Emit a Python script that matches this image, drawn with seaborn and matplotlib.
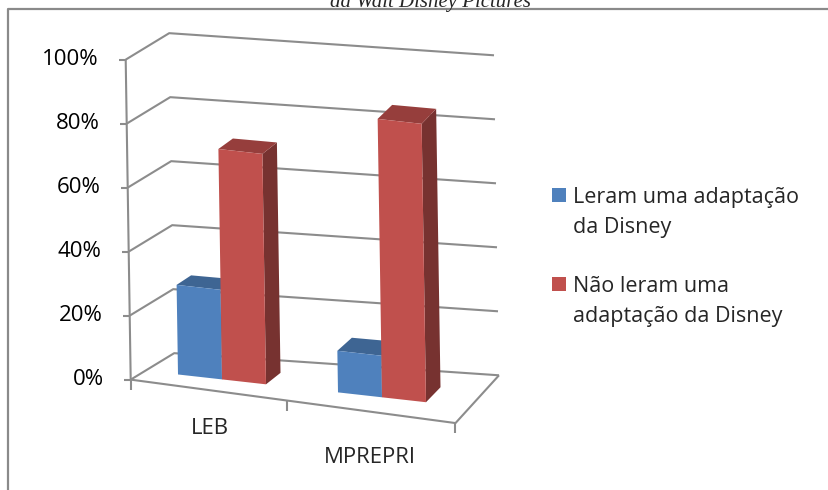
import numpy as np
import pandas as pd
import matplotlib
matplotlib.use("Agg")
import matplotlib.pyplot as plt
import seaborn as sns
from matplotlib.patches import Polygon, Rectangle
from matplotlib.transforms import Affine2D

# Data
categorias = ["LEB", "MPREPRI"]
leram = [28, 13]
nao_leram = [72, 87]
series = ["Leram uma adaptação da Disney", "Não leram uma adaptação da Disney"]
legenda = ["Leram uma adaptação\nda Disney", "Não leram uma\nadaptação da Disney"]
cores = ["#4F81BD", "#C0504D"]
ticks_y = [0, 20, 40, 60, 80, 100]
titulo = "da Walt Disney Pictures"

df = pd.DataFrame({
    "categoria": categorias * 2,
    "valor": leram + nao_leram,
    "serie": [series[0]] * 2 + [series[1]] * 2,
})

sns.set_theme(style="white")
plt.rcParams["font.family"] = ["Open Sans", "DejaVu Sans"]

# pseudo 3D projection (pixel space of the figure)
X0, AX, BZX, LX = 207.5, 160, 14.5, -0.05
Y0, CY, BZY = 389.9, 3.2, -10.5
S0, S1 = 21.4, -3.5
XL, XR = -0.48, 1.55
ZB0, ZB1, ZW = 1, 2, 3
grid_col = "#8c8c8c"
fs = 15.5


def proj(x, y, z):
    return (X0 + AX * x + BZX * z + LX * y,
            Y0 - CY * y + (S0 + S1 * z) * x + BZY * z)


def plane(z):
    return Affine2D(np.array([[AX, LX, X0 + BZX * z],
                              [S0 + S1 * z, -CY, Y0 + BZY * z],
                              [0, 0, 1]]))


fig = plt.figure(figsize=(8.29, 4.9), dpi=100)
ax = fig.add_axes([0, 0, 1, 1])
sns.barplot(data=df, x="categoria", y="valor", hue="serie", palette=cores,
            width=0.55, saturation=1, errorbar=None, legend=False, ax=ax)
ax.set_xlim(0, 829)
ax.set_ylim(490, 0)
ax.axis("off")


def line(pts, **kw):
    xs, ys = zip(*pts)
    ax.plot(xs, ys, color=grid_col, lw=1.5, solid_capstyle="butt", zorder=1, **kw)


# walls / gridlines
for t in ticks_y:
    line([proj(XL, t, 0), proj(XL, t, ZW), proj(XR, t, ZW)])
    px, py = proj(XL, t, 0)
    line([(px - 7, py), (px, py)])
    ax.text(px - 27, py, f"{t}%", ha="right", va="center", fontsize=16, color="black")
line([proj(XL, 0, 0), proj(XL, 100, 0)])
line([proj(XL, 0, 0), proj(XR, 0, 0), proj(XR, 0, ZW)])
for xt in [XL, 0.5, XR]:
    px, py = proj(xt, 0, 0)
    line([(px, py), (px, py + 10)])

# bars with 3D faces
bars = sorted(ax.patches, key=lambda p: p.get_x())
for i, p in enumerate(bars):
    x0, w, h = p.get_x(), p.get_width(), p.get_height()
    x1 = x0 + w
    fc = np.array(p.get_facecolor()[:3])
    p.set_transform(plane(ZB0) + ax.transData)
    p.set_edgecolor("none")
    p.set_zorder(3 + i + 0.5)
    side = [proj(x1, 0, ZB0), proj(x1, 0, ZB1), proj(x1, h, ZB1), proj(x1, h, ZB0)]
    top = [proj(x0, h, ZB0), proj(x1, h, ZB0), proj(x1, h, ZB1), proj(x0, h, ZB1)]
    ax.add_patch(Polygon(side, closed=True, fc=fc * 0.62, ec="none", zorder=3 + i))
    ax.add_patch(Polygon(top, closed=True, fc=fc * 0.78, ec="none", zorder=3 + i))

# category labels
for k, cat in enumerate(categorias):
    px, py = proj(k, 0, 0)
    ax.text(px + 2, py + 39 + 7 * k, cat, ha="center", va="center", fontsize=16)

# legend (square + two text lines per entry)
for k, (lab, cor) in enumerate(zip(legenda, cores)):
    base = 203 + 89 * k
    ax.add_patch(Rectangle((552, base - 15), 14, 14, fc=cor, ec="none", zorder=5))
    for j, txt in enumerate(lab.split("\n")):
        ax.text(573, base + 30 * j, txt, ha="left", va="baseline", fontsize=fs)

# outer frame and cut caption
ax.plot([8, 8, 829], [490, 9.5, 9.5], color="#8a8a8a", lw=1.6, clip_on=False, zorder=0)
ax.text(431, 7, titulo, ha="center", va="baseline", fontsize=15,
        family="Liberation Serif", style="italic")

fig.savefig("out.png", dpi=100)
